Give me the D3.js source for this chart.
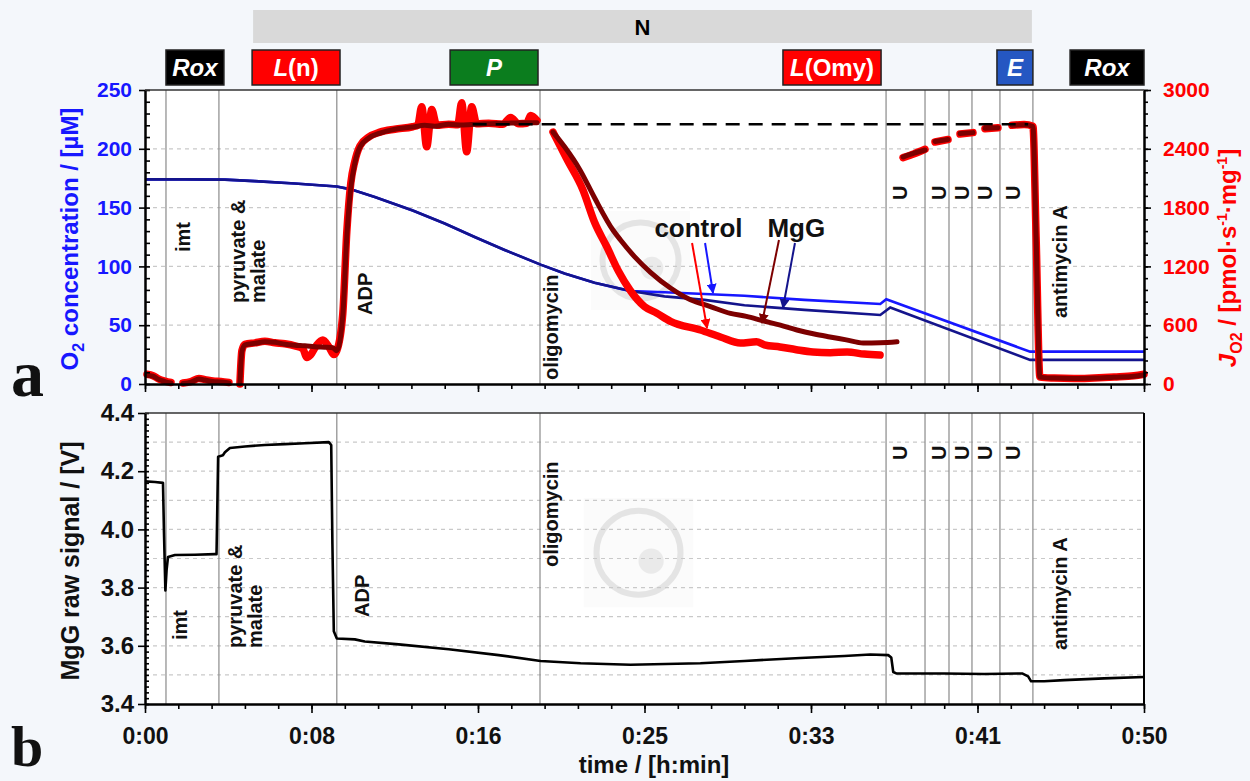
<!DOCTYPE html>
<html>
<head>
<meta charset="utf-8">
<script src="https://cdn.jsdelivr.net/npm/d3@7"></script>
<style>
  body { margin: 0; background: #f4f7fb; }
  svg { display: block; font-family: "Liberation Sans", Arial, Helvetica, sans-serif; }
</style>
</head>
<body>
<svg id="chart" width="1250" height="781"></svg>
<script>
// ---- time axis (minutes) ----
const timeMajorTicks = d3.range(7).map(i => i * 50 / 6);
const timeMinorTicks = d3.range(31).map(i => i * 50 / 30);

// ---- titration events (time in min) ----
const eventTimes  = [1.05, 3.7, 9.6, 19.77, 37.09, 39.04, 40.24, 41.39, 42.79, 44.44];
const eventNames  = ["imt", "pyruvate &\nmalate", "ADP", "oligomycin", "U", "U", "U", "U", "U", "antimycin A"];

// ---- respiratory states (header boxes) ----
const stateLabels = ["Rox", "L(n)", "P", "L(Omy)", "E", "Rox"];
const stateStart  = [1.05, 5.36, 15.27, 31.93, 42.64, 46.3];
const stateEnd    = [3.95, 9.76, 19.67, 36.84, 44.44, 50.0];
const stateColors = ["#000000", "#ff0000", "#0b7d1e", "#ff0000", "#2557c2", "#000000"];
const pathwayLabel = "N";
const pathwaySpan  = [5.41, 44.39];

// ---- O2 concentration [µM] ----
const o2Control = [[0,174],[2,174],[4,173.8],[5.5,172.5],[7.5,170.5],[9.6,168],[10.3,165.5],[11.5,159],
  [13.4,147.5],[15,136.5],[16.5,125],[18,114],[19.8,101.5],[21,94],[22.5,86],[24.3,79],
  [26,78],[28,76.5],[30,75],[33,71.5],[36.8,68],[37.1,72],[44.3,27.5],[50,27.5]];
const o2MgG = [[0,174],[2,174],[4,173.8],[5.5,172.5],[7.5,170.5],[9.6,168],[10.3,165.5],[11.5,159],
  [13.4,147.5],[15,136.5],[16.5,125],[18,114],[19.8,101.5],[21,94],[22.5,86],[24.3,79],
  [26,74.5],[28,71.5],[30,67],[33,63],[36.8,58.7],[37.3,65],[44.3,20.5],[50,20.5]];

// ---- O2 flux JO2 [pmol·s-1·mg-1] ----
const fluxControl = [[0.1,100],[0.4,85],[0.7,50],[1.0,30],[1.3,15],null,
  [1.9,10],[2.3,25],[2.7,55],[3.0,45],[3.4,30],[3.8,25],[4.2,15],null,
  [4.75,0],[4.85,340],[5.0,405],[5.5,420],[6.0,435],[6.5,420],[7.0,410],[7.5,390],[7.9,360],[8.1,270],
  [8.3,300],[8.6,400],[8.9,450],[9.2,380],[9.45,300],[9.6,340],[9.9,720],[10.1,1550],[10.3,2050],
  [10.5,2270],[10.76,2430],[11.2,2520],[11.76,2570],[12.5,2600],[13.4,2625],
  [13.65,2640],[13.85,2830],[14.1,2420],[14.35,2800],[14.6,2640],[15.2,2650],
  [15.65,2645],[15.85,2870],[16.1,2370],[16.35,2830],[16.6,2655],[17.2,2660],
  [17.9,2650],[18.3,2720],[18.7,2655],[19.1,2660],[19.3,2740],[19.62,2690],null,
  [20.42,2571],[21.1,2300],[21.92,1980],[22.5,1650],[23.12,1398],[23.7,1150],[24.27,959],[25.0,790],
  [25.6,724],[26.3,640],[27.8,551],[28.8,480],[29.8,418],[30.6,430],[31.0,400],[31.78,378],[32.6,350],
  [33.43,327],[34.3,320],[35.14,327],[36.0,305],[36.79,296],null,
  [37.94,2310],[38.5,2350],[39.04,2395],null,[39.54,2470],[40.19,2495],null,
  [40.79,2550],[41.44,2565],null,[42.04,2605],[42.69,2615],null,
  [43.39,2640],[44.0,2648],[44.44,2630],[44.6,1500],[44.79,70],[45.5,60],[46.5,55],[47.5,62],[48.5,72],[49.5,85],[50,100]];
const fluxMgG = [[0.1,90],[0.4,80],[0.7,45],[1.0,25],[1.3,10],null,
  [1.9,5],[2.3,20],[2.7,50],[3.0,40],[3.4,25],[3.8,20],[4.2,10],null,
  [4.75,0],[4.85,330],[5.0,400],[5.5,415],[6.0,430],[6.5,425],[7.0,405],[7.5,395],[8.0,390],[8.5,380],
  [9.0,375],[9.4,370],[9.6,340],[9.9,700],[10.1,1500],[10.3,2000],[10.5,2250],[10.76,2420],[11.2,2510],
  [11.76,2560],[12.5,2600],[13.4,2622],[14,2640],[14.5,2630],[15.2,2650],[15.92,2643],[17,2655],
  [18,2660],[19,2665],[19.62,2665],null,
  [20.42,2571],[21.0,2420],[21.77,2184],[22.5,1900],[23.42,1571],[23.8,1469],[24.5,1300],[25.3,1140],
  [26.3,980],[27.3,860],[28.3,790],[29.3,720],[30.1,690],[30.93,645],[31.8,600],[32.63,551],
  [33.5,510],[34.28,480],[35.1,450],[35.94,418],[36.8,420],[37.64,430],null,
  [37.94,2316],[38.5,2355],[39.04,2388],null,[39.54,2475],[40.19,2495],null,
  [40.79,2555],[41.44,2565],null,[42.04,2610],[42.69,2615],null,
  [43.39,2640],[44.0,2645],[44.44,2630],[44.6,1500],[44.79,70],[45.5,60],[46.5,55],[47.5,60],[48.5,70],[49.5,80],[50,95]];
const fluxReference = [[16.4,2650],[44.2,2650]];

// ---- MgG raw fluorescence signal [V] ----
const mggSignal = [[0,4.165],[0.5,4.163],[0.9,4.16],[0.95,3.99],[1.02,3.79],[1.08,3.86],[1.15,3.905],
  [1.5,3.912],[2.5,3.913],[3.5,3.915],[3.58,3.915],[3.62,4.08],[3.66,4.25],[3.9,4.255],[4.0,4.265],
  [4.25,4.28],[5,4.285],[6,4.29],[7,4.293],[8,4.296],[9.2,4.3],[9.32,4.29],[9.38,3.95],[9.45,3.65],
  [9.6,3.625],[10.5,3.622],[11,3.615],[12.7,3.605],[15.2,3.588],[17.7,3.568],[19.8,3.548],[21.8,3.54],
  [24.3,3.535],[27.8,3.54],[30,3.548],[32.8,3.558],[35,3.565],[36.3,3.57],[37.2,3.568],[37.35,3.56],
  [37.45,3.51],[37.6,3.505],[40,3.505],[42,3.503],[43.9,3.505],[44.2,3.495],[44.35,3.478],[45,3.478],
  [46,3.482],[48,3.488],[50,3.493]];

// ---- axis ticks ----
const o2Ticks   = [0, 50, 100, 150, 200, 250];
const fluxTicks = [0, 600, 1200, 1800, 2400, 3000];
const voltTicks = [3.4, 3.6, 3.8, 4.0, 4.2, 4.4];

// ---- annotation arrows: [t0, O2_0, t1, O2_1] ----
const arrowControlFlux = [27.38, 119.9, 28.13, 47.6];
const arrowControlO2   = [28.03, 119.9, 28.43, 77.4];
const arrowMgGFlux     = [31.73, 122.4, 30.88, 51.9];
const arrowMgGO2       = [32.53, 119.9, 31.93, 64.6];

// =====================================================================
const svg = d3.select("#chart");
const FONT = '"Liberation Sans", Arial, sans-serif';

const x    = d3.scaleLinear().domain([0, 50]).range([145, 1144]);
const yO2  = d3.scaleLinear().domain([0, 250]).range([384, 90]);
const yJ   = d3.scaleLinear().domain([0, 3000]).range([384, 90]);
const yV   = d3.scaleLinear().domain([3.4, 4.4]).range([704, 413]);

const BLUE = "#1717ff", NAVY = "#14148c", RED = "#ff0000", DARKRED = "#7d0000";

const fmtTime = d => `${Math.floor(d / 60)}:${String(Math.floor(d % 60 + 1e-9)).padStart(2, "0")}`;

// defs: arrowheads
const defs = svg.append("defs");
function marker(id, color) {
  defs.append("marker").attr("id", id).attr("viewBox", "0 0 10 10")
    .attr("refX", 9).attr("refY", 5).attr("markerWidth", 5).attr("markerHeight", 5)
    .attr("orient", "auto-start-reverse")
    .append("path").attr("d", "M0,0 L10,5 L0,10 z").attr("fill", color);
}
marker("ahRed", RED); marker("ahBlue", BLUE); marker("ahDark", DARKRED); marker("ahNavy", NAVY);

// plot backgrounds
svg.append("rect").attr("x", x(0)).attr("y", yO2(250)).attr("width", x(50) - x(0)).attr("height", yO2(0) - yO2(250)).attr("fill", "#fff");
svg.append("rect").attr("x", x(0)).attr("y", yV(4.4)).attr("width", x(50) - x(0)).attr("height", yV(3.4) - yV(4.4)).attr("fill", "#fff");

// faint logo marks in the plot areas
function logo(cx, cy, r) {
  const g = svg.append("g").attr("opacity", 0.3);
  g.append("rect").attr("x", cx - r * 1.3).attr("y", cy - r * 1.3).attr("width", r * 2.6).attr("height", r * 2.6).attr("fill", "#f2f2f2");
  g.append("circle").attr("cx", cx).attr("cy", cy).attr("r", r).attr("fill", "none").attr("stroke", "#a9a9a9").attr("stroke-width", 6);
  g.append("circle").attr("cx", cx + r * 0.3).attr("cy", cy + r * 0.2).attr("r", r * 0.3).attr("fill", "#bdbdbd");
}
logo(x(24.8), yO2(105), 38);
logo(x(24.7), yV(3.92), 42);

// ---- gridlines ----
const grid = svg.append("g").attr("stroke", "#c9c9c9").attr("stroke-dasharray", "4,4").attr("stroke-width", 1.2);
[50, 100, 150, 200].forEach(v => grid.append("line").attr("x1", x(0)).attr("x2", x(50)).attr("y1", yO2(v)).attr("y2", yO2(v)));
d3.range(1, 10).map(i => 3.4 + i * 0.1).forEach(v => grid.append("line").attr("x1", x(0)).attr("x2", x(50)).attr("y1", yV(v)).attr("y2", yV(v)));

// ---- event lines ----
const ev = svg.append("g").attr("stroke", "#8a8a8a").attr("stroke-width", 1.2);
eventTimes.forEach(t => {
  ev.append("line").attr("x1", x(t)).attr("x2", x(t)).attr("y1", yO2(250)).attr("y2", yO2(0));
  ev.append("line").attr("x1", x(t)).attr("x2", x(t)).attr("y1", yV(4.4)).attr("y2", yV(3.4));
});

// ---- event labels (rotated) ----
// per-event placement: [dx from line, text start y in top panel, text start y in bottom panel]
const evLabelPos = [[24, 252, 640], [26, 303, 648], [35, 315, 617], [18, 380, 567],
  [21, 200, 460], [21, 200, 460], [20, 200, 460], [20, 200, 460], [20, 200, 460], [34, 318, 650]];
const evg = svg.append("g").attr("font-family", FONT).attr("font-size", 20).attr("font-weight", "bold").attr("fill", "#111");
eventNames.forEach((name, i) => {
  const lines = name.split("\n");
  const [dx, yTop, yBot] = evLabelPos[i];
  [yTop, yBot].forEach((yb, k) => {
    lines.forEach((ln, j) => {
      const bx = x(eventTimes[i]) + dx + j * 20 - (k === 1 && i < 3 ? 3 : 0);
      evg.append("text").attr("transform", `translate(${bx},${yb}) rotate(-90)`).text(ln);
    });
  });
});

// ---- O2 concentration lines ----
const lineO2 = d3.line().x(d => x(d[0])).y(d => yO2(d[1]));
svg.append("path").datum(o2Control).attr("d", lineO2).attr("fill", "none").attr("stroke", BLUE).attr("stroke-width", 2.6);
svg.append("path").datum(o2MgG).attr("d", lineO2).attr("fill", "none").attr("stroke", NAVY).attr("stroke-width", 2.6);

// ---- flux traces ----
const lineJ = d3.line().defined(d => d !== null).x(d => x(d[0])).y(d => yJ(d[1])).curve(d3.curveMonotoneX);
svg.append("path").datum(fluxControl).attr("d", lineJ).attr("fill", "none").attr("stroke", RED)
  .attr("stroke-width", 7.5).attr("stroke-linejoin", "round").attr("stroke-linecap", "round");
svg.append("path").datum(fluxMgG).attr("d", lineJ).attr("fill", "none").attr("stroke", DARKRED)
  .attr("stroke-width", 5).attr("stroke-linejoin", "round").attr("stroke-linecap", "round");
svg.append("path").datum(fluxReference).attr("d", d3.line().x(d => x(d[0])).y(d => yJ(d[1])))
  .attr("fill", "none").attr("stroke", "#000").attr("stroke-width", 2.6).attr("stroke-dasharray", "14,9");

// ---- annotation labels and arrows ----
const ann = svg.append("g").attr("font-family", FONT).attr("font-weight", "bold").attr("font-size", 26).attr("fill", "#111");
ann.append("text").attr("x", x(27.7)).attr("y", yO2(125)).attr("text-anchor", "middle").text("control");
ann.append("text").attr("x", x(32.6)).attr("y", yO2(125)).attr("text-anchor", "middle").text("MgG");
[[arrowControlFlux, RED, "ahRed"], [arrowControlO2, BLUE, "ahBlue"], [arrowMgGFlux, DARKRED, "ahDark"], [arrowMgGO2, NAVY, "ahNavy"]]
  .forEach(([a, c, m]) => svg.append("line").attr("x1", x(a[0])).attr("y1", yO2(a[1])).attr("x2", x(a[2])).attr("y2", yO2(a[3]))
    .attr("stroke", c).attr("stroke-width", 2).attr("marker-end", `url(#${m})`));

// ---- MgG raw signal ----
svg.append("path").datum(mggSignal).attr("d", d3.line().x(d => x(d[0])).y(d => yV(d[1])))
  .attr("fill", "none").attr("stroke", "#000").attr("stroke-width", 2.6).attr("stroke-linejoin", "round");

// ---- axes: top panel ----
function styleAxis(g, color, size) {
  g.selectAll("path.domain").attr("stroke", "#000").attr("stroke-width", 2);
  g.selectAll(".tick line").attr("stroke", "#000").attr("stroke-width", 1.6);
  g.selectAll(".tick text").attr("fill", color).attr("font-size", size).attr("font-weight", "bold").attr("font-family", FONT);
}
const axO2 = svg.append("g").attr("transform", `translate(${x(0)},0)`)
  .call(d3.axisLeft(yO2).tickValues(o2Ticks).tickSize(6).tickSizeOuter(0).tickPadding(7).tickFormat(d3.format("d")));
styleAxis(axO2, BLUE, 21);
const axO2m = svg.append("g").attr("transform", `translate(${x(0)},0)`)
  .call(d3.axisRight(yO2).tickValues(d3.range(0, 251, 10)).tickSize(5).tickSizeOuter(0).tickFormat(""));
styleAxis(axO2m, BLUE, 21);
const axJ = svg.append("g").attr("transform", `translate(${x(50)},0)`)
  .call(d3.axisRight(yJ).tickValues(fluxTicks).tickSize(7).tickSizeOuter(0).tickPadding(12).tickFormat(d3.format("d")));
styleAxis(axJ, RED, 21);
const axJm = svg.append("g").attr("transform", `translate(${x(50)},0)`)
  .call(d3.axisRight(yJ).tickValues(d3.range(0, 3001, 120)).tickSize(4).tickSizeOuter(0).tickFormat(""));
styleAxis(axJm, RED, 21);
const axT1 = svg.append("g").attr("transform", `translate(0,${yO2(0)})`)
  .call(d3.axisBottom(x).tickValues(timeMinorTicks).tickSize(5).tickSizeOuter(0).tickFormat(""));
styleAxis(axT1, "#000", 21);
const axT1M = svg.append("g").attr("transform", `translate(0,${yO2(0)})`)
  .call(d3.axisBottom(x).tickValues(timeMajorTicks).tickSize(8).tickSizeOuter(0).tickFormat(""));
styleAxis(axT1M, "#000", 21);
svg.append("line").attr("x1", x(0)).attr("x2", x(50)).attr("y1", yO2(250)).attr("y2", yO2(250)).attr("stroke", "#333").attr("stroke-width", 1.5);

// ---- axes: bottom panel ----
const axV = svg.append("g").attr("transform", `translate(${x(0)},0)`)
  .call(d3.axisLeft(yV).tickValues(voltTicks).tickSize(7).tickSizeOuter(0).tickPadding(4).tickFormat(d3.format(".1f")));
styleAxis(axV, "#111", 24);
const axVm = svg.append("g").attr("transform", `translate(${x(0)},0)`)
  .call(d3.axisRight(yV).tickValues(d3.range(0, 51).map(i => 3.4 + i * 0.02)).tickSize(4).tickSizeOuter(0).tickFormat(""));
styleAxis(axVm, "#111", 24);
const axT2m = svg.append("g").attr("transform", `translate(0,${yV(3.4)})`)
  .call(d3.axisBottom(x).tickValues(timeMinorTicks).tickSize(5).tickSizeOuter(0).tickFormat(""));
styleAxis(axT2m, "#111", 23);
const axT2 = svg.append("g").attr("transform", `translate(0,${yV(3.4)})`)
  .call(d3.axisBottom(x).tickValues(timeMajorTicks).tickSize(9).tickSizeOuter(0).tickPadding(15).tickFormat(fmtTime));
styleAxis(axT2, "#111", 23);
svg.append("line").attr("x1", x(0)).attr("x2", x(50)).attr("y1", yV(4.4)).attr("y2", yV(4.4)).attr("stroke", "#333").attr("stroke-width", 1.5);
svg.append("line").attr("x1", x(50)).attr("x2", x(50)).attr("y1", yV(4.4)).attr("y2", yV(3.4)).attr("stroke", "#000").attr("stroke-width", 2);

// ---- axis titles ----
const t1 = svg.append("text").attr("transform", `translate(78,239) rotate(-90)`).attr("text-anchor", "middle")
  .attr("font-family", FONT).attr("font-size", 24).attr("font-weight", "bold").attr("fill", BLUE);
t1.append("tspan").text("O");
t1.append("tspan").attr("font-size", 16).attr("dy", 6).text("2");
t1.append("tspan").attr("dy", -6).text(" concentration / [µM]");

const t2 = svg.append("text").attr("transform", `translate(1236,258) rotate(-90)`).attr("text-anchor", "middle")
  .attr("font-family", FONT).attr("font-size", 24).attr("font-weight", "bold").attr("fill", RED);
t2.append("tspan").attr("font-style", "italic").text("J");
t2.append("tspan").attr("font-size", 16).attr("dy", 6).text("O2");
t2.append("tspan").attr("dy", -6).text(" / [pmol·s");
t2.append("tspan").attr("font-size", 14).attr("dy", -9).text("-1");
t2.append("tspan").attr("dy", 9).text("·mg");
t2.append("tspan").attr("font-size", 14).attr("dy", -9).text("-1");
t2.append("tspan").attr("dy", 9).text("]");

svg.append("text").attr("transform", `translate(79,561) rotate(-90)`).attr("text-anchor", "middle")
  .attr("font-family", FONT).attr("font-size", 25).attr("font-weight", "bold").attr("fill", "#111").text("MgG raw signal / [V]");
svg.append("text").attr("x", 654).attr("y", 773).attr("text-anchor", "middle")
  .attr("font-family", FONT).attr("font-size", 24).attr("font-weight", "bold").attr("fill", "#111").text("time / [h:min]");

// panel letters
svg.append("text").attr("x", 11).attr("y", 396).attr("font-family", '"Liberation Serif", "DejaVu Serif", serif')
  .attr("font-size", 66).attr("font-weight", "bold").attr("fill", "#111").text("a");
svg.append("text").attr("x", 11).attr("y", 766).attr("font-family", '"Liberation Serif", "DejaVu Serif", serif')
  .attr("font-size", 58).attr("font-weight", "bold").attr("fill", "#111").text("b");

// ---- header: pathway bar and state boxes ----
svg.append("rect").attr("x", x(pathwaySpan[0])).attr("y", 10).attr("width", x(pathwaySpan[1]) - x(pathwaySpan[0])).attr("height", 33)
  .attr("fill", "#d9d9d9");
svg.append("text").attr("x", (x(pathwaySpan[0]) + x(pathwaySpan[1])) / 2).attr("y", 35).attr("text-anchor", "middle")
  .attr("font-family", FONT).attr("font-size", 22).attr("font-weight", "bold").attr("fill", "#000").text(pathwayLabel);

const boxes = svg.append("g");
const hdr = svg.append("g").attr("font-family", FONT).attr("font-size", 24).attr("font-weight", "bold").attr("fill", "#fff");
stateLabels.forEach((lab, i) => {
  const x0 = x(stateStart[i]), x1 = x(stateEnd[i]);
  boxes.append("rect").attr("x", x0).attr("y", 50).attr("width", x1 - x0).attr("height", 35)
    .attr("fill", stateColors[i]).attr("stroke", "#222").attr("stroke-width", 1.5);
  const t = hdr.append("text").attr("x", (x0 + x1) / 2).attr("y", 76).attr("text-anchor", "middle");
  const m = lab.match(/^(L)(\(.*\))$/);
  if (m) {
    t.append("tspan").attr("font-style", "italic").text(m[1]);
    t.append("tspan").text(m[2]);
  } else {
    t.attr("font-style", "italic").text(lab);
  }
});
</script>
</body>
</html>
